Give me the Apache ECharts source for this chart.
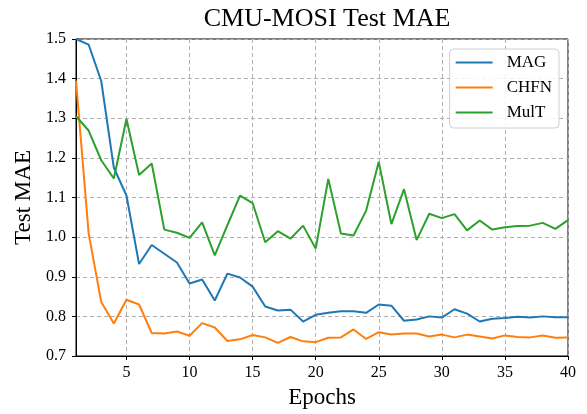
<!DOCTYPE html>
<html>
<head>
<meta charset="utf-8">
<script src="https://cdn.jsdelivr.net/npm/echarts@6/dist/echarts.min.js"></script>
<style>
html,body{margin:0;padding:0;background:#fff;}
#c{width:587px;height:414px;}
</style>
</head>
<body>
<div id="c"></div>
<script>
const epochs = Array.from({length: 40}, (_, i) => String(i + 1));
const yTicks = [0.7, 0.8, 0.9, 1.0, 1.1, 1.2, 1.3, 1.4, 1.5];
const magValues = [1.5, 1.486, 1.394, 1.175, 1.105, 0.932, 0.98, 0.958, 0.936, 0.883,
  0.893, 0.84, 0.908, 0.898, 0.875, 0.825, 0.815, 0.817, 0.787, 0.804,
  0.809, 0.813, 0.813, 0.809, 0.83, 0.827, 0.789, 0.792, 0.8, 0.797,
  0.818, 0.807, 0.787, 0.794, 0.796, 0.799, 0.797, 0.8, 0.798, 0.798];
const chfnValues = [1.395, 1.01, 0.836, 0.782, 0.842, 0.83, 0.758, 0.757, 0.762, 0.751,
  0.783, 0.772, 0.738, 0.742, 0.753, 0.747, 0.733, 0.748, 0.737, 0.735,
  0.746, 0.747, 0.767, 0.743, 0.76, 0.754, 0.757, 0.757, 0.749, 0.754,
  0.747, 0.754, 0.749, 0.744, 0.752, 0.748, 0.747, 0.752, 0.746, 0.747];
const multValues = [1.305, 1.269, 1.194, 1.148, 1.298, 1.157, 1.186, 1.019, 1.011, 0.998,
  1.037, 0.954, 1.03, 1.105, 1.086, 0.987, 1.015, 0.996, 1.029, 0.971,
  1.147, 1.009, 1.004, 1.067, 1.19, 1.033, 1.121, 0.9925, 1.059, 1.048,
  1.058, 1.017, 1.042, 1.019, 1.025, 1.028, 1.029, 1.036, 1.021, 1.043];

const FONT = "'Liberation Serif', 'DejaVu Serif', serif";
const every5 = (idx, val) => Number(val) % 5 === 0;

const chart = echarts.init(document.getElementById('c'), null, {renderer: 'canvas'});
function line(name, data, color) {
  return {
    name, type: 'line', data, showSymbol: false, symbol: 'none',
    lineStyle: {color, width: 2}, itemStyle: {color},
    animation: false, z: 3
  };
}
chart.setOption({
  animation: false,
  backgroundColor: '#fff',
  title: {
    text: 'CMU-MOSI Test MAE', left: 322, top: 1, textAlign: 'center',
    textStyle: {fontFamily: FONT, fontSize: 26, fontWeight: 'normal', color: '#000'}
  },
  grid: {left: 76, right: 19, top: 39, bottom: 55, show: true, borderColor: '#000', borderWidth: 1, containLabel: false},
  legend: {
    orient: 'vertical', right: 28, top: 49,
    data: ['MAG', 'CHFN', 'MulT'],
    icon: 'rect', itemWidth: 37, itemHeight: 2, itemGap: 8,
    padding: [5, 7, 7, 6],
    backgroundColor: 'rgba(255,255,255,0.85)',
    borderColor: '#d0d0d0', borderWidth: 1, borderRadius: 4,
    textStyle: {fontFamily: FONT, fontSize: 17, color: '#000', lineHeight: 17, padding: [0, 0, 0, 9]}
  },
  xAxis: {
    type: 'category', data: epochs, boundaryGap: false,
    name: 'Epochs', nameLocation: 'middle', nameGap: 30,
    nameTextStyle: {fontFamily: FONT, fontSize: 23, color: '#000'},
    axisLine: {lineStyle: {color: '#000', width: 1}},
    axisTick: {show: true, inside: false, length: 4, interval: every5, lineStyle: {color: '#000'}},
    axisLabel: {interval: every5, fontFamily: FONT, fontSize: 16, color: '#000', margin: 9},
    splitLine: {show: true, interval: every5, lineStyle: {color: '#b0b0b0', type: [4, 3], width: 1}}
  },
  yAxis: {
    type: 'value', min: 0.7, max: 1.5, interval: 0.1,
    name: 'Test MAE', nameLocation: 'middle', nameGap: 37, nameRotate: 90,
    nameTextStyle: {fontFamily: FONT, fontSize: 23, color: '#000'},
    axisLine: {show: true, lineStyle: {color: '#000', width: 1}},
    axisTick: {show: true, inside: false, length: 4, lineStyle: {color: '#000'}},
    axisLabel: {fontFamily: FONT, fontSize: 16, color: '#000', margin: 10,
      formatter: v => yTicks.includes(Math.round(v * 10) / 10) ? v.toFixed(1) : ''},
    splitLine: {show: true, lineStyle: {color: '#b0b0b0', type: [4, 3], width: 1}}
  },
  series: [
    line('MAG', magValues, '#1f77b4'),
    line('CHFN', chfnValues, '#ff7f0e'),
    line('MulT', multValues, '#2ca02c')
  ]
});
</script>
</body>
</html>
